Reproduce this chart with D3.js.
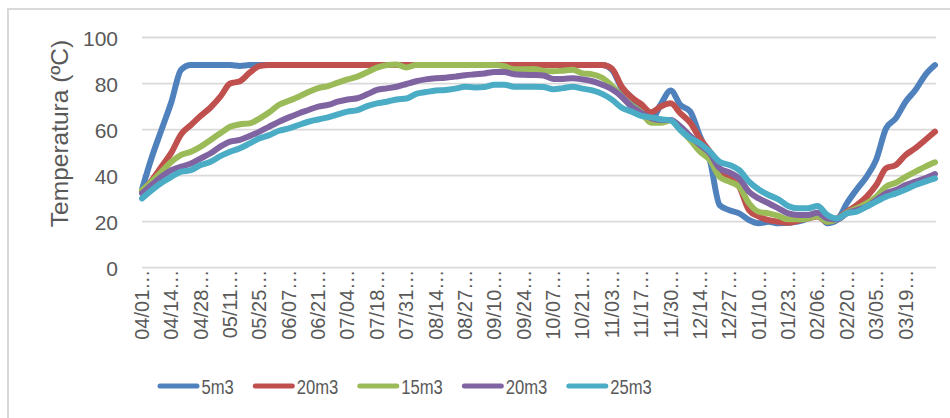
<!DOCTYPE html>
<html>
<head>
<meta charset="utf-8">
<script src="https://cdn.jsdelivr.net/npm/d3@7/dist/d3.min.js"></script>
<style>
    body { margin: 0; background: #fff; }
    svg { display: block; }
</style>
</head>
<body>
<div id="chart"></div>
<script>
// tick labels on the category axis (one every 3 samples)
const tickLabels = ["04/01…", "04/14…", "04/28…", "05/11…", "05/25…", "06/07…", "06/21…",
    "07/04…", "07/18…", "07/31…", "08/14…", "08/27…", "09/10…", "09/24…", "10/07…",
    "10/21…", "11/03…", "11/17…", "11/30…", "12/14…", "12/27…", "01/10…", "01/23…",
    "02/06…", "02/20…", "03/05…", "03/19…"];
const samplesPerLabel = 3;
const yTicks = [0, 20, 40, 60, 80, 100];

const seriesNames = ["5m3", "20m3", "15m3", "20m3", "25m3"];

const temp5m3 = [
    34, 48, 60, 72, 86, 88, 88, 88, 88, 88,
    87.6, 88, 88, 88, 88, 88, 88, 88, 88, 88,
    88, 88, 88, 88, 88, 88, 88, 88, 88, 88,
    88, 88, 88, 88, 88, 88, 88, 88, 88, 88,
    88, 88, 88, 88, 88, 88, 88, 88, 86, 78,
    74, 68.5, 64, 71, 77, 70.7, 67.8, 57, 46.8, 27.2,
    25, 23.6, 20.7, 19.3, 20, 19.3, 19.5, 20, 21.4, 23.6,
    19.3, 20.7, 28, 34, 39.5, 47, 60.5, 64.9, 72.1, 77.2,
    83.7, 88];

const temp20m3a = [
    33, 38, 44, 50, 58, 62, 66, 69.6, 74.3, 80,
    81, 84.7, 87.6, 88, 88, 88, 88, 88, 88, 88,
    88, 88, 88, 88, 88, 88, 88, 88, 88, 88,
    88, 88, 88, 88, 88, 88, 88, 88, 88, 88,
    88, 88, 88, 88, 88, 88, 88, 88, 86.5, 78.6,
    74, 71, 67.5, 70, 71.4, 67, 63, 56, 50.4, 42.4,
    38.8, 35.2, 25, 22.2, 20.7, 20, 19.5, 20.4, 21.4, 22.2,
    20, 21.4, 24.3, 27.2, 30.8, 35.9, 43.2, 44.6, 49, 51.9,
    55.5, 59.1];

const temp15m3 = [
    33.7, 37.5, 41.7, 46, 49, 50.4, 52.6, 55.5, 58.4, 61.2,
    62.3, 62.7, 64.8, 67.5, 70.8, 72.5, 74.3, 76.3, 78, 78.9,
    80.4, 81.8, 83, 84.9, 86.9, 88, 88.3, 87, 88, 88,
    88, 88, 88, 88, 88, 88, 88, 87.5, 86.2, 86.2,
    86.3, 85.5, 85.3, 85.6, 86, 84.4, 84, 82.5, 79, 74.3,
    70.5, 67.5, 63, 63, 63.9, 59.8, 55.5, 50.4, 46.8, 39.5,
    37.4, 35.2, 28, 24.3, 23.6, 22.5, 21, 21, 21.4, 22.5,
    20, 21, 23.9, 25.8, 28, 30.8, 35.2, 36.9, 39.5, 41.7,
    43.9, 45.8];

const temp20m3b = [
    32.3, 36, 39.6, 42.4, 43.9, 45.3, 47.5, 49.7, 52.6, 54.8,
    55.5, 57.2, 59.1, 61.3, 63.4, 65.3, 67, 68.5, 70, 70.7,
    72.1, 73.1, 73.6, 75.3, 77.2, 77.9, 78.6, 79.8, 81, 81.8,
    82.3, 82.5, 83, 83.6, 84, 84.4, 85, 85, 84, 83.8,
    83.7, 83.5, 82, 82, 82.3, 81.8, 81, 79.5, 77.5, 74.3,
    70, 67.3, 65, 64.2, 64.2, 61.3, 57.2, 53.3, 49.7, 43.2,
    41.4, 38.8, 33, 30.1, 28, 25.8, 23.6, 22.9, 22.9, 23.9,
    21.4, 21, 23.6, 25, 26.5, 29.4, 32.3, 33.7, 35.9, 37.4,
    38.8, 40.7];

const temp25m3 = [
    30.1, 33.7, 36.9, 39.5, 41.7, 42.4, 44.6, 46, 48.5, 50.4,
    51.9, 54, 56.2, 57.6, 59.5, 60.5, 62, 63.4, 64.4, 65.3,
    66.6, 67.8, 68.5, 70.2, 71.4, 72.1, 73.1, 73.5, 75.5, 76.3,
    77, 77.2, 77.8, 78.6, 78.3, 78.5, 79.5, 79.5, 78.6, 78.6,
    78.6, 78.5, 77.5, 78, 78.6, 77.8, 77, 75.5, 73, 69.5,
    67.8, 66, 65.3, 64.5, 64, 59.8, 56.2, 54, 50.4, 46,
    44.6, 42.4, 37.4, 34, 31.6, 29.7, 26.8, 25.8, 25.8, 26.8,
    22.9, 21.4, 23.6, 24.3, 26.5, 28.7, 30.8, 32.3, 34, 35.9,
    37.4, 38.8];

const seriesValues = [temp5m3, temp20m3a, temp15m3, temp20m3b, temp25m3];
const colors = ["#4f81bd", "#c0504d", "#9bbb59", "#8064a2", "#4bacc6"];

const width = 950;
const height = 418;
const plot = { left: 142, right: 935, top: 37.5, bottom: 267.7 };
const textColor = "#595959";
const gridColor = "#d9d9d9";
const font = "'Liberation Sans', Arial, sans-serif";

const svg = d3.select("#chart")
    .append("svg")
    .attr("width", width)
    .attr("height", height);

// chart border (runs off the right / bottom edge)
svg.append("rect")
    .attr("x", 8)
    .attr("y", 9)
    .attr("width", width + 20)
    .attr("height", height + 20)
    .attr("fill", "none")
    .attr("stroke", gridColor)
    .attr("stroke-width", 2);

// scales
const nSamples = temp5m3.length;
const xScale = d3.scaleLinear()
    .domain([0, nSamples - 1])
    .range([plot.left, plot.right]);

const yScale = d3.scaleLinear()
    .domain([0, 100])
    .range([plot.bottom, plot.top]);

// gridlines
svg.append("g")
    .selectAll("line")
    .data(yTicks)
    .enter()
    .append("line")
    .attr("x1", plot.left)
    .attr("x2", plot.right + 1)
    .attr("y1", d => yScale(d))
    .attr("y2", d => yScale(d))
    .attr("stroke", gridColor)
    .attr("stroke-width", 1.8);

// y axis labels
const yAxis = d3.axisLeft(yScale)
    .tickValues(yTicks)
    .tickSize(0)
    .tickPadding(0);

const yAxisG = svg.append("g")
    .attr("transform", `translate(118, 0)`)
    .call(yAxis);
yAxisG.select(".domain").remove();
yAxisG.selectAll("text")
    .attr("fill", textColor)
    .attr("dy", "0.36em")
    .style("font-family", font)
    .style("font-size", "21px");

// y axis title
svg.append("text")
    .attr("transform", `translate(68, 133.5) rotate(-90)`)
    .attr("text-anchor", "middle")
    .attr("fill", textColor)
    .style("font-family", font)
    .style("font-size", "24.5px")
    .text("Temperatura (ºC)");

// x axis labels
const xTickIdx = tickLabels.map((d, i) => i * samplesPerLabel);
const xAxis = d3.axisBottom(xScale)
    .tickValues(xTickIdx)
    .tickFormat((d, i) => tickLabels[i])
    .tickSize(0)
    .tickPadding(0);

const xAxisG = svg.append("g")
    .attr("transform", `translate(0, ${plot.bottom})`)
    .call(xAxis);
xAxisG.select(".domain").remove();
xAxisG.selectAll("text")
    .attr("fill", textColor)
    .attr("text-anchor", "end")
    .attr("transform", "translate(0, 2) rotate(-90)")
    .attr("x", 0)
    .attr("y", 0)
    .attr("dy", "0.32em")
    .style("font-family", font)
    .style("font-size", "20px");

// lines
const line = d3.line()
    .x((d, i) => xScale(i))
    .y(d => yScale(d))
    .curve(d3.curveMonotoneX);

svg.append("g")
    .selectAll("path")
    .data(seriesValues)
    .enter()
    .append("path")
    .attr("d", d => line(d))
    .attr("fill", "none")
    .attr("stroke", (d, i) => colors[i])
    .attr("stroke-width", 6)
    .attr("stroke-linejoin", "round")
    .attr("stroke-linecap", "round");

// legend (text squeezed horizontally like the original narrow font)
const legend = svg.append("g")
    .attr("transform", "translate(158, 386)");
const squeeze = 0.81;

let legendX = 0;
seriesNames.forEach((name, i) => {
    const item = legend.append("g")
        .attr("transform", `translate(${legendX}, 0)`);

    item.append("line")
        .attr("x1", 2)
        .attr("x2", 39)
        .attr("y1", 0)
        .attr("y2", 0)
        .attr("stroke", colors[i])
        .attr("stroke-width", 5)
        .attr("stroke-linecap", "round");

    const label = item.append("text")
        .attr("transform", `translate(43.5, 7.5) scale(${squeeze}, 1)`)
        .attr("fill", textColor)
        .style("font-family", font)
        .style("font-size", "20.5px")
        .text(name);

    legendX += 43.5 + label.node().getComputedTextLength() * squeeze + 19.5;
});
</script>
</body>
</html>
